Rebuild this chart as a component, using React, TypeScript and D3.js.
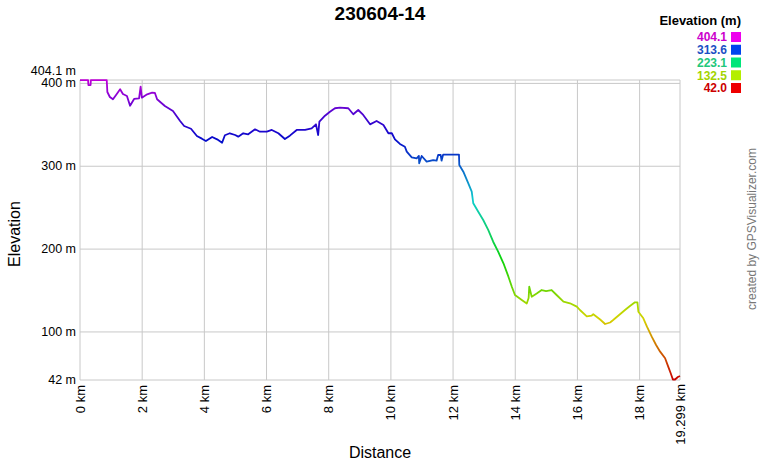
import React from "react";
import * as d3 from "d3";

const title = "230604-14";

const distanceKm = [
  0, 0.26, 0.27, 0.34, 0.35, 0.86, 0.88, 0.96, 1.06, 1.16, 1.29, 1.38, 1.51, 1.61, 1.74, 1.9, 1.95, 1.99, 2.16, 2.32,
  2.41, 2.48, 2.73, 2.99, 3.22, 3.35, 3.57, 3.76, 3.92, 4.05, 4.25, 4.41, 4.57, 4.66, 4.82, 4.99, 5.09, 5.25, 5.41, 5.63,
  5.79, 6.01, 6.17, 6.38, 6.59, 6.75, 6.97, 7.24, 7.45, 7.59, 7.66, 7.7, 7.88, 8.04, 8.2, 8.36, 8.63, 8.79, 8.95, 9.11,
  9.33, 9.54, 9.76, 9.92, 10.03, 10.13, 10.29, 10.45, 10.51, 10.67, 10.83, 10.9, 10.91, 10.99, 11.15, 11.36, 11.47, 11.52, 11.6, 11.63,
  11.68, 12.19, 12.2, 12.33, 12.49, 12.6, 12.65, 12.81, 12.97, 13.13, 13.29, 13.45, 13.62, 13.78, 13.89, 13.99, 14.21, 14.37, 14.43, 14.45,
  14.53, 14.69, 14.85, 14.99, 15.17, 15.33, 15.55, 15.76, 15.98, 16.08, 16.3, 16.46, 16.51, 16.73, 16.89, 17.05, 17.15, 17.34, 17.53, 17.69,
  17.85, 17.93, 17.96, 18.12, 18.24, 18.39, 18.53, 18.66, 18.82, 18.92, 19.0, 19.07, 19.14, 19.23, 19.299,
];

const elevationM = [
  404, 404, 398, 398, 404, 404, 389.6, 383.6, 380.8, 386, 392.9, 387.2, 384.8, 373, 381.2, 381.8, 396, 382.7, 386.8, 388.8,
  388.4, 380.8, 372.7, 366.7, 354.6, 348.6, 345.3, 336.5, 333.3, 330.5, 335.3, 332.5, 328.4, 337.4, 339.8, 337.7, 335.7, 339.8, 338.6, 344.6,
  341.7, 341.7, 343.8, 339.8, 332.9, 336.9, 343.8, 343.8, 345.8, 350.6, 337.7, 353.8, 361, 365.8, 370, 370.7, 370, 362.7, 367.9, 361.9,
  350.6, 354.6, 349.8, 339.8, 339.8, 332.5, 326.9, 323.6, 317.6, 310.8, 309.6, 312.4, 303.6, 312.4, 305.5, 307.5, 306.7, 313.6, 313.6, 306.7,
  314, 314, 301.5, 293.4, 279.4, 269.3, 255.3, 245.1, 235.1, 223.1, 208.9, 196.9, 182.9, 166.7, 154.6, 144.6, 138.6, 134.3, 141, 154.6,
  142.5, 146.4, 150.6, 149.4, 150.6, 144.6, 136.5, 134.6, 130.5, 126.5, 118.9, 119.8, 121.3, 115, 109.6, 111.4, 114.4, 120.5, 126.5, 131.3,
  135.8, 135.8, 124.4, 116.5, 106, 94.3, 84.2, 76.2, 68.2, 58.1, 50.1, 42.6, 42.6, 45.6, 46.8,
];

const xTicks = [0, 2, 4, 6, 8, 10, 12, 14, 16, 18];
const xEnd = 19.299;
const yTicks = [100, 200, 300, 400];
const yMin = 42;
const yMax = 404.1;

const legendValues = [404.1, 313.6, 223.1, 132.5, 42.0];
const legendTextColors = ["#cc00cc", "#1a4fc4", "#22c77a", "#a3d400", "#cc0000"];
const legendBoxColors = ["#ee00ee", "#0044ee", "#00e67a", "#b4ee00", "#ee0000"];
const lineColors = ["#c80000", "#a8d800", "#10d070", "#0838c8", "#c000d8"];

const W = 760;
const H = 460;
const FONT = "'Liberation Sans', Arial, Helvetica, sans-serif";

export default function App() {
  const x = d3.scaleLinear().domain([0, xEnd]).range([80, 680]);
  const y = d3.scaleLinear().domain([yMin, yMax]).range([380, 80]);

  const colorScale = d3
    .scaleLinear<string>()
    .domain([...legendValues].reverse())
    .range(lineColors)
    .interpolate(d3.interpolateHsl);

  const pts: [number, number][] = distanceKm.map((d, i) => [d, elevationM[i]]);
  const line = d3
    .line<[number, number]>()
    .x((d) => x(d[0]))
    .y((d) => y(d[1]));

  const nStops = 40;
  const stops = d3.range(nStops + 1).map((i) => {
    const v = yMax - ((yMax - yMin) * i) / nStops;
    return { offset: `${(i / nStops) * 100}%`, color: colorScale(v) };
  });

  const grid = "#c8c8c8";
  const legendY0 = 37;
  const legendStep = 12.75;

  return (
    <svg
      width={W}
      height={H}
      style={{ position: "absolute", left: 0, top: 0, display: "block", background: "#fff" }}
      fontFamily={FONT}
    >
      <defs>
        <linearGradient id="elevGrad" gradientUnits="userSpaceOnUse" x1={0} y1={y(yMax)} x2={0} y2={y(yMin)}>
          {stops.map((s, i) => (
            <stop key={i} offset={s.offset} stopColor={s.color} />
          ))}
        </linearGradient>
      </defs>
      <rect x={0} y={0} width={W} height={H} fill="#fff" />

      {/* title */}
      <text x={380} y={20} textAnchor="middle" fontSize={19} fontWeight="bold" fill="#000">
        {title}
      </text>

      {/* grid */}
      {xTicks.concat([xEnd]).map((t) => (
        <line key={"gx" + t} x1={x(t)} x2={x(t)} y1={y(yMax)} y2={y(yMin)} stroke={grid} strokeWidth={1} />
      ))}
      {yTicks.concat([yMin, yMax]).map((t) => (
        <line key={"gy" + t} x1={x(0)} x2={x(xEnd)} y1={y(t)} y2={y(t)} stroke={grid} strokeWidth={1} />
      ))}

      {/* y labels */}
      {yTicks.concat([yMin]).map((t) => (
        <text key={"yl" + t} x={76} y={y(t)} dy="0.3em" textAnchor="end" fontSize={12.5} fill="#000">
          {`${t} m`}
        </text>
      ))}
      <text x={76} y={y(yMax) - 5} textAnchor="end" fontSize={12.5} fill="#000">
        {`${yMax} m`}
      </text>

      {/* x labels */}
      {xTicks.map((t) => (
        <text
          key={"xl" + t}
          transform={`translate(${x(t)},385) rotate(-90)`}
          dy="0.35em"
          textAnchor="end"
          fontSize={13}
          fill="#000"
        >
          {`${t} km`}
        </text>
      ))}
      <text transform={`translate(${x(xEnd)},384) rotate(-90)`} dy="0.35em" textAnchor="end" fontSize={13} fill="#000">
        {`${xEnd} km`}
      </text>

      {/* axis titles */}
      <text transform="translate(20,234) rotate(-90)" textAnchor="middle" fontSize={16} fill="#000">
        Elevation
      </text>
      <text x={380} y={458} textAnchor="middle" fontSize={16} fill="#000">
        Distance
      </text>

      {/* profile */}
      <path d={line(pts) || ""} fill="none" stroke="url(#elevGrad)" strokeWidth={1.8} strokeLinejoin="round" />

      {/* legend */}
      <text x={741} y={25} textAnchor="end" fontSize={13} fontWeight="bold" fill="#000">
        Elevation (m)
      </text>
      {legendValues.map((v, i) => (
        <g key={"lg" + i}>
          <text
            x={727}
            y={legendY0 + i * legendStep}
            dy="0.36em"
            textAnchor="end"
            fontSize={12}
            fontWeight="bold"
            fill={legendTextColors[i]}
          >
            {v.toFixed(1)}
          </text>
          <rect x={731} y={legendY0 + i * legendStep - 5} width={10} height={10} fill={legendBoxColors[i]} />
        </g>
      ))}

      {/* credit */}
      <text transform="translate(756,229) rotate(-90)" textAnchor="middle" fontSize={12} fill="#777">
        created by GPSVisualizer.com
      </text>
    </svg>
  );
}
